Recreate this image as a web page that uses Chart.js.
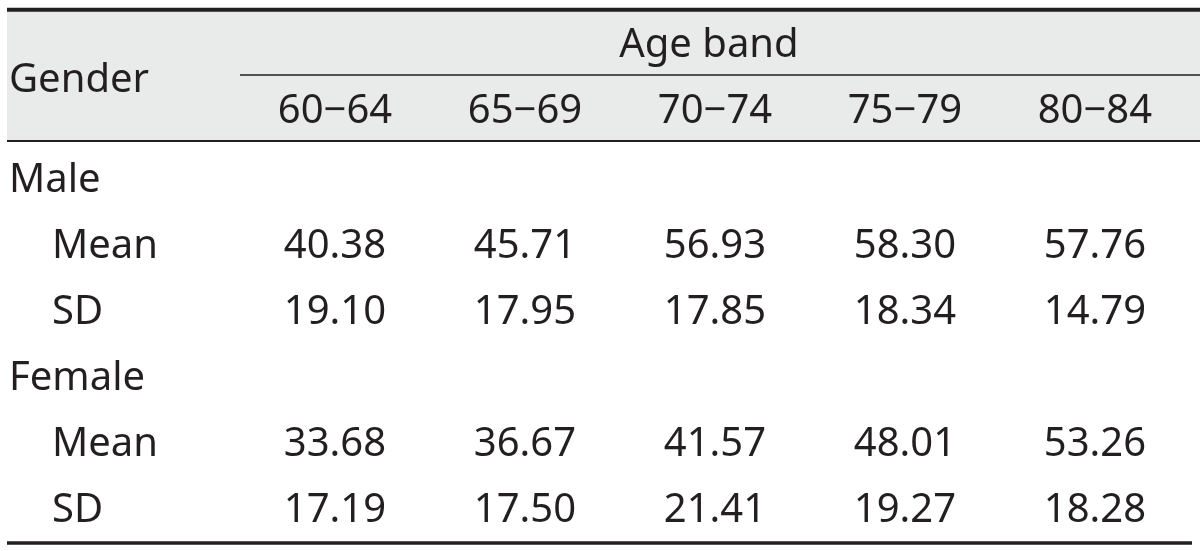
<!DOCTYPE html>
<html lang="en">
<head>
    <meta charset="UTF-8">
    <title>Age band by gender</title>
    <script src="https://cdn.jsdelivr.net/npm/chart.js"></script>
    <style>
        body { margin: 0; background: #fff; }
        #wrap { width: 1200px; height: 551px; }
    </style>
</head>
<body>
    <div id="wrap"><canvas id="tableChart"></canvas></div>

    <script>
        // table values
        const ageBands = ['60−64', '65−69', '70−74', '75−79', '80−84'];
        const groups = ['Male', 'Female'];
        const stats = ['Mean', 'SD'];
        const maleMean = [40.38, 45.71, 56.93, 58.30, 57.76];
        const maleSD = [19.10, 17.95, 17.85, 18.34, 14.79];
        const femaleMean = [33.68, 36.67, 41.57, 48.01, 53.26];
        const femaleSD = [17.19, 17.50, 21.41, 19.27, 18.28];

        const rows = [
            { group: 0, stat: 0, values: maleMean },
            { group: 0, stat: 1, values: maleSD },
            { group: 1, stat: 0, values: femaleMean },
            { group: 1, stat: 1, values: femaleSD }
        ];

        const FONT = '40px "Noto Sans"';
        const INK = '#231f20';

        // row index on the y scale: group title, then its stat rows
        function rowIndex(r) { return r.group * 3 + 1 + r.stat; }

        const datasets = rows.map(r => ({
            label: groups[r.group] + ' ' + stats[r.stat],
            data: r.values.map((v, i) => ({ x: i, y: rowIndex(r), v: v })),
            pointRadius: 0,
            showLine: false
        }));

        function text(ctx, str, x, yMid, align) {
            ctx.textAlign = align;
            ctx.textBaseline = 'alphabetic';
            ctx.fillText(str, x, yMid + 14.5);
        }

        const tablePlugin = {
            id: 'tablePlugin',
            beforeDatasetsDraw(chart) {
                const ctx = chart.ctx;
                const xs = chart.scales.x, ys = chart.scales.y;
                const left = 7, right = chart.width;
                const top = ys.getPixelForValue(-2.55);
                const headBottom = ys.getPixelForValue(-0.56);
                const bandLine = ys.getPixelForValue(-1.56);
                const bottom = ys.getPixelForValue(5.53);

                ctx.save();
                ctx.fillStyle = '#e9eaea';
                ctx.fillRect(left, top, right - left, headBottom - top);

                ctx.strokeStyle = INK;
                ctx.lineWidth = 4;
                ctx.beginPath(); ctx.moveTo(left, top); ctx.lineTo(right, top); ctx.stroke();
                ctx.lineWidth = 2;
                ctx.beginPath(); ctx.moveTo(left, headBottom); ctx.lineTo(right, headBottom); ctx.stroke();
                ctx.lineWidth = 1.5;
                ctx.beginPath(); ctx.moveTo(xs.getPixelForValue(-0.5), bandLine); ctx.lineTo(right, bandLine); ctx.stroke();
                ctx.lineWidth = 3.5;
                ctx.beginPath(); ctx.moveTo(left, bottom); ctx.lineTo(1192, bottom); ctx.stroke();

                ctx.fillStyle = INK;
                ctx.font = FONT;
                text(ctx, 'Age band', xs.getPixelForValue(2) - 6, ys.getPixelForValue(-2.05), 'center');
                text(ctx, 'Gender', 9, ys.getPixelForValue(-1.53), 'left');
                ageBands.forEach((b, i) => {
                    text(ctx, b, xs.getPixelForValue(i), ys.getPixelForValue(-1.06), 'center');
                });
                groups.forEach((g, gi) => {
                    text(ctx, g, 9, ys.getPixelForValue(gi * 3), 'left');
                });
                rows.forEach(r => {
                    text(ctx, stats[r.stat], 52, ys.getPixelForValue(rowIndex(r)), 'left');
                });
                ctx.restore();
            },
            afterDatasetsDraw(chart) {
                const ctx = chart.ctx;
                ctx.save();
                ctx.fillStyle = INK;
                ctx.font = FONT;
                chart.data.datasets.forEach((ds, di) => {
                    chart.getDatasetMeta(di).data.forEach((pt, i) => {
                        text(ctx, ds.data[i].v.toFixed(2), pt.x, pt.y, 'center');
                    });
                });
                ctx.restore();
            }
        };

        new Chart(document.getElementById('tableChart'), {
            type: 'scatter',
            data: { datasets: datasets },
            options: {
                responsive: true,
                maintainAspectRatio: false,
                animation: false,
                layout: { padding: 0 },
                plugins: { legend: { display: false }, tooltip: { enabled: false } },
                scales: {
                    x: { type: 'linear', display: false, min: -1.763, max: 4.553 },
                    y: { type: 'linear', display: false, reverse: true, min: -2.697, max: 5.652 }
                }
            },
            plugins: [tablePlugin]
        });
    </script>
</body>
</html>
